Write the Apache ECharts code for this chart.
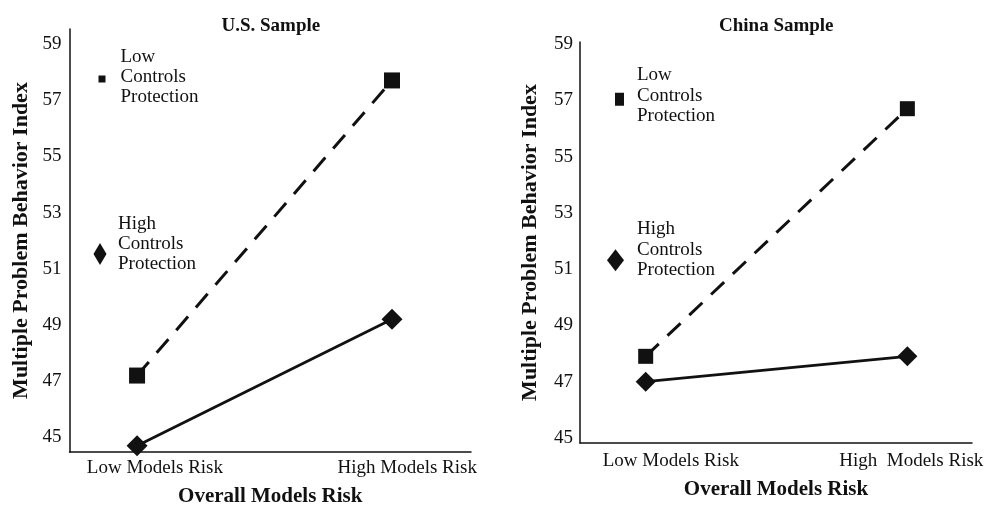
<!DOCTYPE html>
<html><head><meta charset="utf-8">
<script src="https://cdn.jsdelivr.net/npm/echarts@6/dist/echarts.min.js"></script>
<style>html,body{margin:0;padding:0;background:#fff}#c{width:984px;height:505px}</style>
</head><body><div id="c"></div>
<script>
const panelTitles = ['U.S. Sample', 'China Sample'];
const xPositions = [0, 1];
const xTickLabelsUS = ['Low Models Risk', 'High Models Risk'];
const xTickLabelsCN = ['Low Models Risk', 'High  Models Risk'];
const yTicks = [45, 47, 49, 51, 53, 55, 57, 59];
const seriesNames = ['Low Controls Protection', 'High Controls Protection'];
const usLowControls = [47.2, 57.7];
const usHighControls = [44.7, 49.2];
const cnLowControls = [47.9, 56.7];
const cnHighControls = [47.0, 47.9];
const xAxisTitle = 'Overall Models Risk';
const yAxisTitle = 'Multiple Problem Behavior Index';

const FONT = 'Liberation Serif, Times New Roman, serif';
const INK = '#111';
const pairs = vals => vals.map((v, i) => [xPositions[i], v]);

const panels = [
  { grid: { left: 69.5, top: 29, width: 401.5, height: 423 }, xMin: -0.265, xMax: 1.31, yMin: 44.48, yMax: 59.53,
    labelPos: [0.07, 1.06], labels: xTickLabelsUS, xGap: 34.5, yGap: 37, xMargin: 7, yMargin: 8,
    lowSym: 16, diaSym: [21, 21] },
  { grid: { left: 580, top: 42, width: 392, height: 401 }, xMin: -0.251, xMax: 1.247, yMin: 44.82, yMax: 59.07,
    labelPos: [0.096, 1.015], labels: xTickLabelsCN, xGap: 36.5, yGap: 38.5, xMargin: 9, yMargin: 7,
    lowSym: 15, diaSym: [20, 20] }
];
const data = [[usLowControls, usHighControls], [cnLowControls, cnHighControls]];

function legendItem(left, top, w, h, name, icon, lh, tail, pl) {
  return {
    left, top, padding: 0, itemWidth: w, itemHeight: h, selectedMode: false,
    data: [{ name, icon }],
    formatter: n => n.split(' ').map(s => '{a|' + s + '}').join('\n') + (tail > 0 ? '\n{b| }' : ''),
    textStyle: {
      fontFamily: FONT, fontSize: 19, lineHeight: lh, color: INK, padding: [0, 0, 0, pl],
      rich: {
        a: { fontFamily: FONT, fontSize: 19, lineHeight: lh, color: INK },
        b: { fontFamily: FONT, fontSize: 4, lineHeight: tail, color: INK }
      }
    }
  };
}

const option = {
  backgroundColor: '#fff',
  animation: false,
  title: [
    { text: panelTitles[0], left: 221.5, top: 17, padding: 0, textStyle: { fontFamily: FONT, fontSize: 19, fontWeight: 'bold', color: INK } },
    { text: panelTitles[1], left: 719, top: 17, padding: 0, textStyle: { fontFamily: FONT, fontSize: 19, fontWeight: 'bold', color: INK } }
  ],
  grid: panels.map(p => Object.assign({ outerBoundsMode: 'none', containLabel: false }, p.grid)),
  xAxis: panels.map((p, i) => ({
    type: 'value', gridIndex: i, min: p.xMin, max: p.xMax,
    axisLine: { show: true, onZero: false, lineStyle: { color: INK, width: 1.5 } },
    axisTick: { show: false }, splitLine: { show: false },
    axisLabel: { customValues: p.labelPos, margin: p.xMargin, fontFamily: FONT, fontSize: 19, color: INK,
      formatter: v => (v < 0.5 ? p.labels[0] : p.labels[1]) },
    name: xAxisTitle, nameLocation: 'middle', nameGap: p.xGap,
    nameTextStyle: { fontFamily: FONT, fontSize: 21, fontWeight: 'bold', color: INK }
  })),
  yAxis: panels.map((p, i) => ({
    type: 'value', gridIndex: i, min: p.yMin, max: p.yMax,
    axisLine: { show: true, onZero: false, lineStyle: { color: INK, width: 1.5 } },
    axisTick: { show: false }, splitLine: { show: false },
    axisLabel: { customValues: yTicks, margin: p.yMargin, fontFamily: FONT, fontSize: 19, color: INK },
    name: yAxisTitle, nameLocation: 'middle', nameGap: p.yGap, nameRotate: 90,
    nameTextStyle: { fontFamily: FONT, fontSize: 22, fontWeight: 'bold', color: INK }
  })),
  legend: [
    legendItem(98.5, 47, 7, 7, seriesNames[0], 'rect', 20, 4, 10),
    legendItem(93.5, 214, 13, 22, seriesNames[1], 'diamond', 20, 20, 6.5),
    legendItem(615, 65, 9, 13, seriesNames[0], 'rect', 20.5, 7, 8),
    legendItem(607, 219, 17, 22, seriesNames[1], 'diamond', 20.5, 21, 8)
  ],
  series: []
};

panels.forEach((p, i) => {
  option.series.push({
    name: seriesNames[0], type: 'line', xAxisIndex: i, yAxisIndex: i,
    data: pairs(data[i][0]), symbol: 'rect', symbolSize: p.lowSym,
    itemStyle: { color: INK, borderWidth: 0 },
    lineStyle: { color: INK, width: 3, type: [18, 12] }, z: 3
  });
  option.series.push({
    name: seriesNames[1], type: 'line', xAxisIndex: i, yAxisIndex: i,
    data: pairs(data[i][1]), symbol: 'diamond', symbolSize: p.diaSym,
    itemStyle: { color: INK, borderWidth: 0 },
    lineStyle: { color: INK, width: 2.8, type: 'solid' }, z: 3
  });
});

const chart = echarts.init(document.getElementById('c'), null, { renderer: 'canvas' });
chart.setOption(option);
</script>
</body></html>
